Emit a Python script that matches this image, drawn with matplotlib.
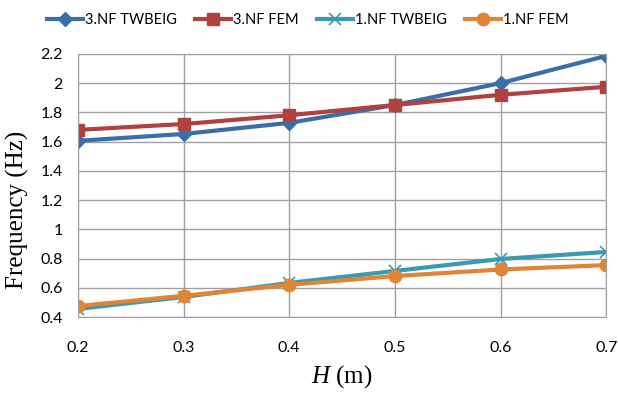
import matplotlib.pyplot as plt

# data
H = [0.2, 0.3, 0.4, 0.5, 0.6, 0.7]
nf3_twbeig = [1.605, 1.652, 1.728, 1.85, 2.0, 2.186]
nf3_fem = [1.68, 1.72, 1.78, 1.85, 1.92, 1.975]
nf1_twbeig = [0.455, 0.537, 0.633, 0.715, 0.797, 0.845]
nf1_fem = [0.475, 0.545, 0.62, 0.68, 0.725, 0.755]

yticks = [0.4, 0.6, 0.8, 1.0, 1.2, 1.4, 1.6, 1.8, 2.0, 2.2]
ytick_labels = ["0.4", "0.6", "0.8", "1", "1.2", "1.4", "1.6", "1.8", "2", "2.2"]

tick_font = "Lato"
label_font = "Liberation Serif"
plt.rcParams["mathtext.fontset"] = "custom"
plt.rcParams["mathtext.it"] = "Liberation Serif:italic"
plt.rcParams["mathtext.rm"] = "Liberation Serif"

fig = plt.figure(figsize=(6.18, 3.99), dpi=100)
ax = fig.add_axes([0.126, 0.2055, 0.855, 0.6595])

ax.plot(H, nf3_twbeig, color="#3A6EAB", lw=3, marker="D", ms=7, label="3.NF TWBEIG")
ax.plot(H, nf3_fem, color="#B0413E", lw=3, marker="s", ms=9, label="3.NF FEM")
ax.plot(H, nf1_twbeig, color="#3A9AB2", lw=3, marker="x", ms=9, mew=1.2, label="1.NF TWBEIG")
ax.plot(H, nf1_fem, color="#E08534", lw=3, marker="o", ms=9, label="1.NF FEM")

ax.set_xlim(0.2, 0.7)
ax.set_ylim(0.4, 2.2)
ax.set_xticks(H)
ax.set_xticklabels([f"{h:.1f}" for h in H], fontfamily=tick_font, fontsize=11.5)
ax.set_yticks(yticks)
ax.set_yticklabels(ytick_labels, fontfamily=tick_font, fontsize=11.5)
ax.tick_params(length=0)
ax.tick_params(axis="y", pad=11)
ax.tick_params(axis="x", pad=17)

ax.grid(True, color="#A0A0A0", lw=1)
ax.set_axisbelow(True)
for s in ax.spines.values():
    s.set_color("#A0A0A0")

ax.set_ylabel("Frequency (Hz)", fontfamily=label_font, fontsize=18)
ax.yaxis.set_label_coords(-0.092, 0.409)
ax.set_xlabel("$H$ (m)", fontfamily=label_font, fontsize=18, labelpad=6)

leg = fig.legend(loc="upper center", bbox_to_anchor=(0.498, 1.0), ncol=4, frameon=False,
                 prop={"family": tick_font, "size": 10.5}, handlelength=2.5,
                 columnspacing=1.2, handletextpad=0.15)

fig.savefig("out.png", dpi=100)
